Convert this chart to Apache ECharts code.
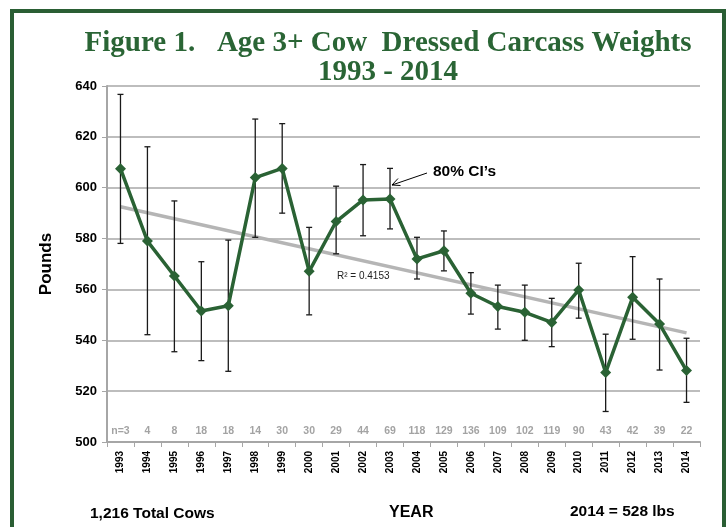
<!DOCTYPE html>
<html>
<head>
<meta charset="utf-8">
<script src="https://cdn.jsdelivr.net/npm/echarts@6/dist/echarts.min.js"></script>
<style>html,body{margin:0;padding:0;background:#fff;}#c{width:726px;height:527px;}</style>
</head>
<body>
<div id="c"></div>
<script>
const years = ['1993','1994','1995','1996','1997','1998','1999','2000','2001','2002','2003','2004','2005','2006','2007','2008','2009','2010','2011','2012','2013','2014'];
const meanWeight = [607.5,579,565.3,551.5,553.6,604,607.6,567.1,586.7,595.2,595.6,572,575.2,558.5,553.3,551,547,559.8,527.3,556.9,546.4,528.1];
const ciLow  = [578.1,542.2,535.5,532,527.8,580.5,590,550,574,581.1,583.8,564.1,567.3,550.3,544.4,540,537.5,548.7,512,540.4,528.3,515.6];
const ciHigh = [636.7,616.1,594.8,570.9,579.4,627,625.2,584.4,600.6,609.1,607.6,580.5,583,566.6,561.7,561.7,556.5,570.3,542.4,572.9,564.1,540.8];
const nCows = ['n=3','4','8','18','18','14','30','30','29','44','69','118','129','136','109','102','119','90','43','42','39','22'];
const trendEnds = [592.5, 542.9];
const yTicks = {min:500, max:640, interval:20};

const green = '#2a6234';
const chart = echarts.init(document.getElementById('c'), null, {renderer:'canvas'});
const trendData = years.map((y,i)=> i===0 ? trendEnds[0] : (i===years.length-1 ? trendEnds[1] : null));
const sans = 'Liberation Sans, Arial, sans-serif';

chart.setOption({
  animation:false,
  backgroundColor:'#fff',
  grid:{left:107, right:26, top:86, bottom:85, containLabel:false},
  xAxis:{
    type:'category', data:years, boundaryGap:true,
    axisLine:{lineStyle:{color:'#a6a6a6', width:2}},
    axisTick:{show:true, length:5, lineStyle:{color:'#a6a6a6', width:1}},
    axisLabel:{rotate:90, fontFamily:sans, fontWeight:'bold', fontSize:10, color:'#000', margin:9}
  },
  yAxis:{
    type:'value', min:yTicks.min, max:yTicks.max, interval:yTicks.interval,
    name:'Pounds', nameLocation:'middle', nameGap:52, nameRotate:90,
    nameTextStyle:{fontFamily:sans, fontWeight:'bold', fontSize:17, color:'#000'},
    axisLine:{show:true, lineStyle:{color:'#a6a6a6', width:2}},
    axisTick:{show:true, length:5, lineStyle:{color:'#a6a6a6'}},
    axisLabel:{fontFamily:sans, fontWeight:'bold', fontSize:13, color:'#000', margin:10},
    splitLine:{lineStyle:{color:'#bdbdbd', width:2}}
  },
  series:[
    {
      type:'line', data:trendData, connectNulls:true, symbol:'none', z:1,
      lineStyle:{color:'#b5b5b5', width:3.5}
    },
    {
      type:'custom', z:2,
      data: years.map((y,i)=>[i, ciLow[i], ciHigh[i]]),
      encode:{x:0, y:[1,2]},
      renderItem(params, api){
        const lo = api.coord([api.value(0), api.value(1)]);
        const hi = api.coord([api.value(0), api.value(2)]);
        const w = 3;
        const st = {stroke:'#1a1a1a', lineWidth:1.3};
        return {type:'group', children:[
          {type:'line', shape:{x1:lo[0], y1:lo[1], x2:hi[0], y2:hi[1]}, style:st},
          {type:'line', shape:{x1:lo[0]-w, y1:lo[1], x2:lo[0]+w, y2:lo[1]}, style:st},
          {type:'line', shape:{x1:hi[0]-w, y1:hi[1], x2:hi[0]+w, y2:hi[1]}, style:st}
        ]};
      }
    },
    {
      type:'line', data:meanWeight, z:3,
      symbol:'diamond', symbolSize:11,
      lineStyle:{color:green, width:3.5},
      itemStyle:{color:green}
    },
    {
      type:'scatter', data: years.map(()=>504.2), symbolSize:0, z:4,
      label:{show:true, position:'inside', formatter:(p)=>nCows[p.dataIndex],
        fontFamily:sans, fontSize:10.5, color:'#8c8c8c', fontWeight:'bold'}
    }
  ],
  graphic:[
    {type:'rect', shape:{x:12, y:11, width:712, height:600}, style:{fill:'none', stroke:'#2a5e34', lineWidth:4}, z:100},
    {type:'text', x:388, y:29, style:{text:'Figure 1.   Age 3+ Cow  Dressed Carcass Weights', align:'center', font:'bold 29px "Liberation Serif", serif', fill:'#2a6535'}},
    {type:'text', x:388, y:58, style:{text:'1993 - 2014', align:'center', font:'bold 29px "Liberation Serif", serif', fill:'#2a6535'}},
    {type:'text', x:337, y:271, style:{text:'R² = 0.4153', font:'10px "Liberation Sans", Arial', fill:'#222'}},
    {type:'text', x:433, y:164, style:{text:'80% CI’s', font:'bold 15.5px "Liberation Sans", Arial', fill:'#000'}},
    {type:'line', shape:{x1:427, y1:173, x2:392, y2:185}, style:{stroke:'#000', lineWidth:1}},
    {type:'polyline', shape:{points:[[398,178.5],[392,185],[400.5,185.5]]}, style:{stroke:'#000', lineWidth:1, fill:'none'}},
    {type:'text', x:90, y:506, style:{text:'1,216 Total Cows', font:'bold 15.5px "Liberation Sans", Arial', fill:'#000'}},
    {type:'text', x:389, y:505, style:{text:'YEAR', font:'bold 16px "Liberation Sans", Arial', fill:'#000'}},
    {type:'text', x:570, y:504, style:{text:'2014 = 528 lbs', font:'bold 15.5px "Liberation Sans", Arial', fill:'#000'}}
  ]
});
</script>
</body>
</html>
